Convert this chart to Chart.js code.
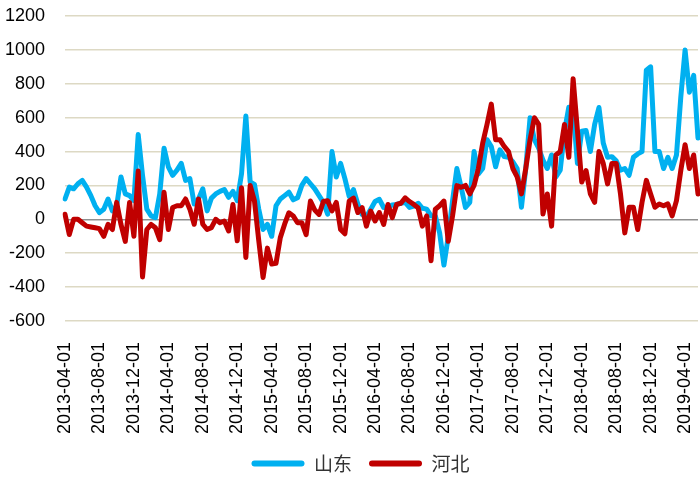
<!DOCTYPE html>
<html>
<head>
<meta charset="utf-8">
<script src="https://cdn.jsdelivr.net/npm/chart.js@4.4.1/dist/chart.umd.min.js"></script>
<style>
  body { margin: 0; background: #fff; }
  #wrap { width: 700px; height: 478px; }
</style>
</head>
<body>
<div id="wrap"><canvas id="chart" width="700" height="478"></canvas></div>
<script>
// half-month samples from 2013-04-01 to 2019-05-16
const dates = [];
for (let i = 0; i < 148; i++) {
  const k = Math.floor(i / 2) + 3;
  const y = 2013 + Math.floor(k / 12);
  const mo = (k % 12) + 1;
  dates.push(y + '-' + String(mo).padStart(2, '0') + '-' + (i % 2 ? '16' : '01'));
}

const tickLabels = [
  '2013-04-01', '2013-08-01', '2013-12-01', '2014-04-01', '2014-08-01', '2014-12-01',
  '2015-04-01', '2015-08-01', '2015-12-01', '2016-04-01', '2016-08-01', '2016-12-01',
  '2017-04-01', '2017-08-01', '2017-12-01', '2018-04-01', '2018-08-01', '2018-12-01',
  '2019-04-01'
];

const shandong = [
  120, 190, 180, 210, 230, 190, 140, 80, 40, 60, 120, 50,
  80, 250, 150, 140, 110, 500, 260, 60, 20, 10, 150, 420,
  310, 260, 290, 330, 230, 240, 90, 120, 180, 50, 125, 150,
  165, 176, 130, 165, 110, 270, 610, 220, 206, 60, -60, -30,
  -100, 80, 120, 140, 160, 115, 127, 200, 240, 210, 180, 140,
  100, 30, 400, 250, 330, 240, 135, 175, 90, 29, 15, 60,
  105, 118, 70, 70, 85, 88, 95, 100, 70, 78, 95, 65,
  60, 20, 20, -80, -270, -100, 110, 300, 189, 70, 100, 400,
  268, 300, 470, 430, 310, 410, 370, 366, 340, 300, 71, 300,
  600, 470, 420, 350, 300, 380, 250, 290, 520, 662, 650, 330,
  520, 524, 400, 560, 660, 450, 366, 370, 345, 290, 300, 260,
  366, 386, 400, 880, 900, 400, 400, 300, 366, 300, 380, 720,
  1000, 750, 850, 480
];

const hebei = [
  30, -90, 0, 0, -20, -40, -45, -50, -55, -100, -30, -60,
  100, -30, -130, 100, -100, 285, -340, -60, -30, -50, -120, 160,
  -60, 70, 80, 80, 120, 60, -29, 120, -29, -60, -49, 0,
  -20, -10, -69, 88, -127, 186, -225, 200, 108, -127, -343, -170,
  -264, -260, -108, -29, 39, 20, -20, -20, -90, 108, 55, 29,
  105, 110, 50, 100, -60, -85, 108, 125, 40, 69, -40, 49,
  -10, 40, -30, 88, 10, 88, 95, 127, 105, 88, 69, -40,
  20, -245, 60, 80, 108, -130, 20, 199, 189, 200, 150, 200,
  300, 450, 560, 680, 470, 470, 430, 400, 300, 250, 150, 300,
  470, 600, 560, 31, 150, -40, 380, 400, 560, 366, 830, 524,
  220, 288, 150, 100, 400, 330, 209, 330, 330, 150, -80, 71,
  71, -60, 100, 230, 150, 71, 90, 80, 91, 20, 110, 288,
  440, 300, 380, 150
];

// nudge the legend a little right, as in the original
const legendShift = {
  id: 'legendShift',
  afterLayout(chart) {
    chart.legend.left += 9;
    chart.legend.right += 9;
  }
};

const ctx = document.getElementById('chart').getContext('2d');
new Chart(ctx, {
  type: 'line',
  data: {
    labels: dates,
    datasets: [
      {
        label: '山东',
        data: shandong,
        borderColor: '#00b0f0',
        backgroundColor: '#00b0f0',
        borderWidth: 5,
        order: 1
      },
      {
        label: '河北',
        data: hebei,
        borderColor: '#c00000',
        backgroundColor: '#c00000',
        borderWidth: 5,
        order: 0
      }
    ]
  },
  plugins: [legendShift],
  options: {
    responsive: false,
    animation: false,
    layout: { autoPadding: false, padding: { left: 5, right: 2, top: 16, bottom: -5 } },
    elements: {
      point: { radius: 0 },
      line: { tension: 0, borderJoinStyle: 'round', borderCapStyle: 'round' }
    },
    scales: {
      x: {
        offset: false,
        grid: { display: false },
        border: { display: false },
        afterFit: (scale) => {
          scale.height = 116;
          scale.paddingLeft = 0;
          scale.paddingRight = 0;
        },
        ticks: {
          autoSkip: false,
          minRotation: 90,
          maxRotation: 90,
          padding: 13,
          color: '#000',
          font: { family: 'Liberation Sans', size: 18 },
          callback: function (value) {
            const lab = this.getLabelForValue(value);
            return tickLabels.includes(lab) ? lab : null;
          }
        }
      },
      y: {
        min: -600,
        max: 1200,
        border: { display: false },
        afterFit: (scale) => {
          scale.width = 60;
          scale.paddingTop = 0;
          scale.paddingBottom = 0;
        },
        grid: {
          drawTicks: false,
          lineWidth: 1.5,
          color: (c) => (c.tick && c.tick.value === 0 ? '#8f8f8f' : '#ddd9c4')
        },
        ticks: {
          stepSize: 200,
          padding: 20,
          color: '#000',
          font: { family: 'Liberation Sans', size: 18 },
          callback: (v) => String(v)
        }
      }
    },
    plugins: {
      tooltip: { enabled: false },
      legend: {
        position: 'bottom',
        labels: {
          boxWidth: 53,
          boxHeight: 6,
          padding: 17,
          color: '#333',
          font: { family: 'Noto Sans CJK SC', size: 19 },
          generateLabels: (chart) =>
            Chart.defaults.plugins.legend.labels.generateLabels(chart)
              .sort((a, b) => a.datasetIndex - b.datasetIndex)
              .map((item) => Object.assign(item, { lineWidth: 0, borderRadius: 3 }))
        }
      }
    }
  }
});
</script>
</body>
</html>
